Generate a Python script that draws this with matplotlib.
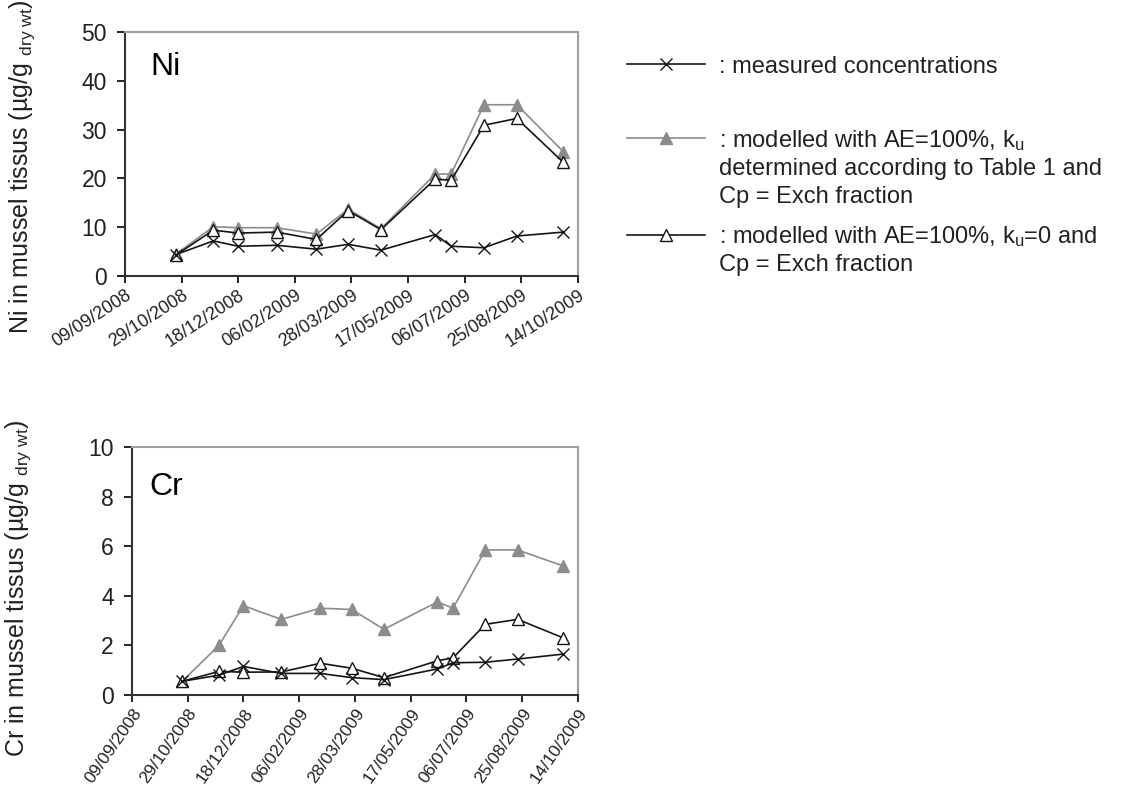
import numpy as np
import matplotlib
matplotlib.use("Agg")
import matplotlib.pyplot as plt
import matplotlib.dates as mdates
import matplotlib.transforms as mtransforms
from matplotlib.legend_handler import HandlerLine2D
from datetime import datetime, timedelta

plt.rcParams['font.family'] = ['Liberation Sans', 'DejaVu Sans']
plt.rcParams['mathtext.fontset'] = 'custom'
plt.rcParams['mathtext.rm'] = 'Liberation Sans'
plt.rcParams['mathtext.it'] = 'Liberation Sans:italic'
plt.rcParams['mathtext.default'] = 'regular'

# sampling dates
dates = ['24/10/2008', '26/11/2008', '18/12/2008', '21/01/2009', '25/02/2009', '25/03/2009',
         '23/04/2009', '10/06/2009', '24/06/2009', '23/07/2009', '21/08/2009', '01/10/2009']

# Ni (ug/g dry wt)
ni_measured = [4.4, 7.2, 6.1, 6.3, 5.5, 6.5, 5.3, 8.5, 6.1, 5.8, 8.2, 9.0]
ni_ku_table = [4.5, 10.1, 9.9, 9.9, 8.6, 13.7, 9.7, 20.9, 20.9, 35.1, 35.1, 25.5]
ni_ku_zero = [4.3, 9.4, 8.8, 9.0, 7.5, 13.4, 9.5, 19.9, 19.6, 30.9, 32.3, 23.3]

# Cr (ug/g dry wt)
cr_measured = [0.55, 0.8, 1.15, 0.87, 0.87, 0.7, 0.62, 1.05, 1.3, 1.32, 1.45, 1.65]
cr_ku_table = [0.55, 2.0, 3.6, 3.05, 3.5, 3.45, 2.65, 3.75, 3.5, 5.85, 5.85, 5.2]
cr_ku_zero = [0.55, 0.95, 0.92, 0.93, 1.28, 1.08, 0.7, 1.38, 1.5, 2.85, 3.05, 2.3]

x_start = '09/09/2008'
x_end = '14/10/2009'
tick_step_days = 50

labels = [": measured concentrations\n ",
          ": modelled with AE=100%, k$_\\mathregular{u}$\ndetermined according to Table 1 and\nCp = Exch fraction",
          ": modelled with AE=100%, k$_\\mathregular{u}$=0 and\nCp = Exch fraction"]
line_spacings = [1.72, 1.3, 1.3]

GREY = '#8c8c8c'
BLACK = '#151515'
LEG_FS = 17


def to_dt(s):
    return datetime.strptime(s, '%d/%m/%Y')


x = [to_dt(d) for d in dates]
t0, t1 = to_dt(x_start), to_dt(x_end)
ticks = [t0 + timedelta(days=k) for k in range(0, (t1 - t0).days + 1, tick_step_days)]


class FirstLineHandler(HandlerLine2D):
    # put the legend sample level with the first line of a multi-line label
    def __init__(self, nlines, spacing, **kw):
        super().__init__(**kw)
        self.nlines = nlines
        self.spacing = spacing

    def create_artists(self, legend, orig_handle, xdescent, ydescent, width, height, fontsize, trans):
        arts = super().create_artists(legend, orig_handle, xdescent, ydescent, width, height, fontsize, trans)
        dy = (self.nlines - 1) * 0.5 * self.spacing * fontsize
        for a in arts:
            a.set_ydata(np.asarray(a.get_ydata()) + dy)
        return arts


def panel(fig, ax, measured, ku_table, ku_zero, ymax, ystep, name, ylabel, lab_xy, name_xy, rot, xfs, dx):
    g, = ax.plot(x, ku_table, color=GREY, lw=1.2, marker='^', ms=8, mfc=GREY, mec=GREY, zorder=2)
    o, = ax.plot(x, ku_zero, color=BLACK, lw=1.2, marker='^', ms=8, mfc='white', mec=BLACK, mew=1.0, zorder=3)
    m, = ax.plot(x, measured, color=BLACK, lw=1.2, marker='x', ms=9, mew=1.0, zorder=4)
    ax.set_xlim(t0, t1)
    ax.set_ylim(0, ymax)
    ax.set_yticks(np.arange(0, ymax + 0.1, ystep))
    ax.set_xticks(ticks)
    ax.xaxis.set_major_formatter(mdates.DateFormatter('%d/%m/%Y'))
    shift = mtransforms.ScaledTranslation(dx / 100, 0, fig.dpi_scale_trans)
    for lab in ax.get_xticklabels():
        lab.set_rotation(rot)
        lab.set_ha('right')
        lab.set_va('top')
        lab.set_rotation_mode('anchor')
        lab.set_fontsize(xfs)
        lab.set_color('#222222')
        lab.set_transform(lab.get_transform() + shift)
    ax.tick_params(axis='y', length=6, width=1.2, pad=7, labelsize=16.5, labelcolor='#222222', direction='out')
    ax.tick_params(axis='x', length=5, width=1.2, pad=3, direction='out')
    for s in ['left', 'bottom']:
        ax.spines[s].set_color('#333333')
        ax.spines[s].set_linewidth(1.5)
    for s in ['top', 'right']:
        ax.spines[s].set_color('#a0a0a0')
        ax.spines[s].set_linewidth(1.5)
    ax.set_ylabel(ylabel, fontsize=18, color='#222222')
    ax.yaxis.set_label_coords(*lab_xy)
    ax.text(name_xy[0], name_xy[1], name, transform=ax.transAxes, fontsize=23, va='baseline', ha='left')
    return m, g, o


fig = plt.figure(figsize=(11.23, 7.95), dpi=100)
ax1 = fig.add_axes([0.1113, 0.6528, 0.4034, 0.3069])
ax2 = fig.add_axes([0.1175, 0.1258, 0.3971, 0.3119])

h = panel(fig, ax1, ni_measured, ni_ku_table, ni_ku_zero, 50, 10, 'Ni',
          'Ni in mussel tissus (µg/g $_\\mathregular{dry\\ wt}$)', (-0.195, 0.45), (0.055, 0.824),
          33, 13, -6)
panel(fig, ax2, cr_measured, cr_ku_table, cr_ku_zero, 10, 2, 'Cr',
      'Cr in mussel tissus (µg/g $_\\mathregular{dry\\ wt}$)', (-0.222, 0.43), (0.038, 0.806),
      55, 12.5, -3)

handler_map = {h[i]: FirstLineHandler(lab.count('\n') + 1, line_spacings[i], numpoints=1)
               for i, lab in enumerate(labels)}
leg = fig.legend(h, labels, loc='upper left', bbox_to_anchor=(0.558, 0.93), frameon=False,
                 fontsize=LEG_FS, handlelength=3.3, handletextpad=0.6, borderpad=0, borderaxespad=0,
                 labelspacing=0.7, handler_map=handler_map)
for t, ls in zip(leg.get_texts(), line_spacings):
    t.set_color('#222222')
    t.set_linespacing(ls)

fig.savefig('out.png', dpi=100, facecolor='white')
